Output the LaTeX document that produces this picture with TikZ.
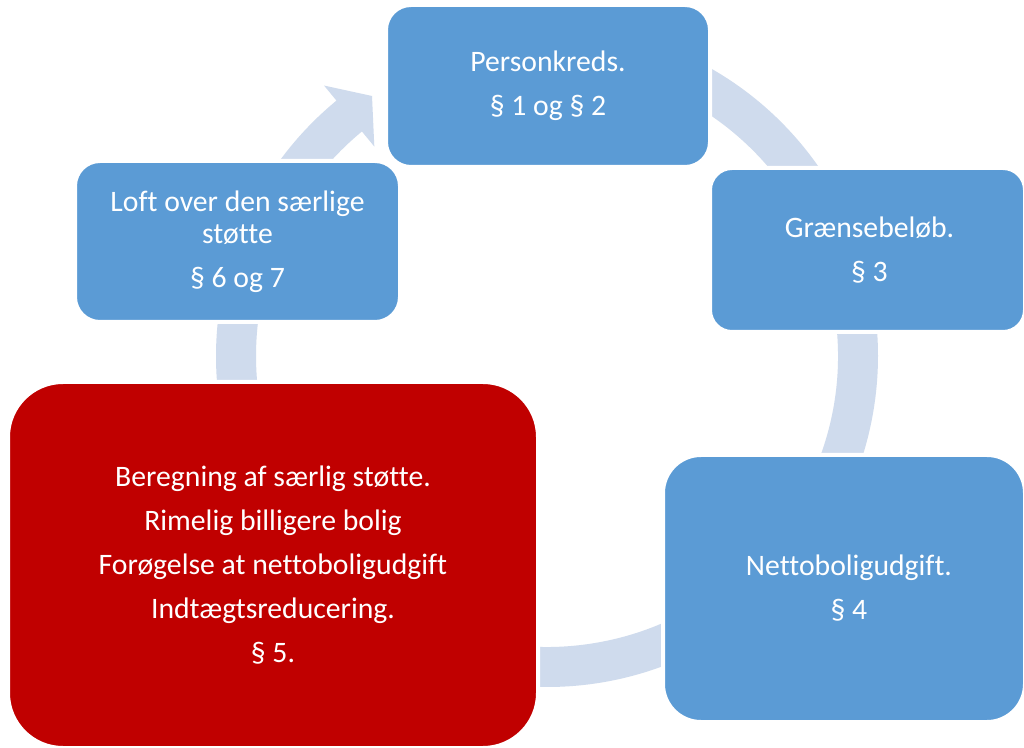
\documentclass[tikz,border=0pt]{standalone}
\usepackage{fontspec}
\setmainfont{Carlito}[Ligatures=NoCommon]
\definecolor{sablue}{RGB}{91,155,213}
\definecolor{sared}{RGB}{192,0,0}
\definecolor{saarc}{RGB}{207,219,237}
\begin{document}
\begin{tikzpicture}[x=1pt,y=1pt,
  box/.style={draw=white, line width=4pt, rounded corners=#1, text=white, align=center,
              font=\fontsize{29.7}{32}\selectfont, inner sep=0pt},
  ring/.style={fill=saarc}]
\useasboundingbox (0,0) rectangle (1024,747);
\fill[white] (0,0) rectangle (1024,747);
% circular arrow behind the boxes
\fill[ring, shift={(547,391)}] (129.5:331) arc[start angle=129.5, end angle=459.5, radius=331]
  -- (459.5:291) arc[start angle=459.5, end angle=129.5, radius=291]
  -- (129.5:271.5) -- (-175,260) -- (129.5:350.5) -- cycle;
% boxes
\node[box=25pt, fill=sablue, minimum width=324pt, minimum height=162pt] (pk) at (548,661)
  {Personkreds.\\[12pt]§ 1 og § 2};
\node[box=22pt, fill=sablue, minimum width=315pt, minimum height=164pt] (gb) at (867.5,497)
  {\hspace*{4pt}Grænsebeløb.\\[12pt]\hspace*{4pt}§ 3};
\node[box=38pt, fill=sablue, minimum width=362pt, minimum height=267pt] (nb) at (844,158.5)
  {\hspace*{10pt}Nettoboligudgift.\\[12pt]\hspace*{10pt}§ 4};
\node[box=55pt, fill=sared, minimum width=530pt, minimum height=366pt] (bs) at (273,182)
  {Beregning af særlig støtte.\\[12pt]Rimelig billigere bolig\\[12pt]Forøgelse at nettoboligudgift\\[12pt]Indtægtsreducering.\\[12pt]§ 5.};
\node[box=25pt, fill=sablue, minimum width=325pt, minimum height=161pt] (lo) at (237.5,505.5)
  {Loft over den særlige\\støtte\\[12pt]§ 6 og 7};
\end{tikzpicture}
\end{document}
